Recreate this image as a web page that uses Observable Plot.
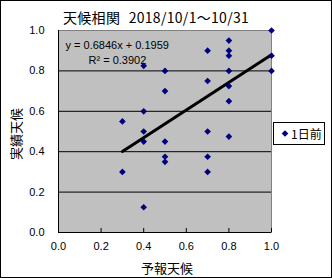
<!DOCTYPE html>
<html>
<head>
<meta charset="utf-8">
<script src="https://cdn.jsdelivr.net/npm/d3@7"></script>
<script src="https://cdn.jsdelivr.net/npm/@observablehq/plot@0.6"></script>
<style>
  html, body { margin: 0; padding: 0; background: #fff; }
  #chart { width: 332px; height: 278px; }
</style>
</head>
<body>
<div id="chart"></div>
<script>
// Data (予報天候 vs 実績天候)
const forecast = [1.0, 0.8, 0.7, 0.8, 0.8, 1.0, 0.4, 0.5, 0.8, 1.0, 0.7, 0.8, 0.5, 0.8, 0.4, 0.3, 0.4, 0.4, 0.5, 0.7, 0.8, 0.5, 0.5, 0.7, 0.3, 0.7, 0.4];
const actual   = [1.0, 0.95, 0.9, 0.9, 0.875, 0.875, 0.825, 0.8, 0.8, 0.8, 0.75, 0.725, 0.7, 0.65, 0.6, 0.55, 0.5, 0.45, 0.45, 0.5, 0.475, 0.375, 0.35, 0.375, 0.3, 0.3, 0.125];
const xTicks = [0, 0.2, 0.4, 0.6, 0.8, 1.0];
const yTicks = [0, 0.2, 0.4, 0.6, 0.8, 1.0];
const gridY = [0.2, 0.4, 0.6, 0.8];
const slope = 0.6846;
const intercept = 0.1959;
const rSquared = 0.3902;
const titleText = "天候相関 2018/10/1～10/31";
const xLabel = "予報天候";
const yLabel = "実績天候";
const seriesName = "1日前";

const points = forecast.map((x, i) => ({x, y: actual[i]}));
const xMin = d3.min(forecast), xMax = d3.max(forecast);
const trend = [xMin, xMax].map(x => ({x, y: slope * x + intercept}));
const eqLines = [`y = ${slope}x + ${intercept}`, `R² = ${rSquared}`];

const numFont = "'Liberation Sans', Arial, sans-serif";
const jpFont = "'Noto Sans CJK JP', sans-serif";

const chart = Plot.plot({
  width: 332,
  height: 278,
  marginLeft: 58,
  marginRight: 61,
  marginTop: 30,
  marginBottom: 46,
  style: {background: "#fff", fontFamily: numFont, fontSize: "11px", color: "#000"},
  x: {domain: [0, 1]},
  y: {domain: [0, 1]},
  marks: [
    Plot.frame({fill: "#c0c0c0", stroke: "#808080"}),
    Plot.ruleY(gridY, {stroke: "#000", strokeWidth: 1}),
    Plot.ruleX([0], {stroke: "#000"}),
    Plot.ruleY([0], {stroke: "#000"}),
    Plot.ruleX(xTicks.slice(1), {y1: 0, y2: 0.02, stroke: "#000"}),
    Plot.axisX({ticks: xTicks, tickFormat: d3.format(".1f"), tickSize: 0, tickPadding: 10, label: null, fontSize: 11}),
    Plot.axisY({ticks: yTicks, tickFormat: d3.format(".1f"), tickSize: 0, tickPadding: 14, label: null, fontSize: 11}),
    Plot.line(trend, {x: "x", y: "y", stroke: "#000", strokeWidth: 3}),
    Plot.dot(points, {x: "x", y: "y", symbol: "diamond2", r: 3, fill: "#000080", stroke: "none"}),
    Plot.text([eqLines[0]], {frameAnchor: "top-left", dx: 7, dy: 11, text: d => d, textAnchor: "start", fontSize: 11, fill: "#000"}),
    Plot.text([eqLines[1]], {frameAnchor: "top-left", dx: 30, dy: 26, text: d => d, textAnchor: "start", fontSize: 11, fill: "#000"})
  ]
});

const svg = d3.select(chart);
// Title
svg.append("text").attr("x", 63).attr("y", 17).attr("text-anchor", "start").attr("dominant-baseline", "central")
  .style("font-family", jpFont).style("font-size", "14px").style("word-spacing", "5px").style("letter-spacing", "0.3px")
  .attr("fill", "#000").text(titleText);
// X label
svg.append("text").attr("x", 167).attr("y", 267).attr("text-anchor", "middle").attr("dominant-baseline", "central")
  .style("font-family", jpFont).style("font-size", "13px").attr("fill", "#000").text(xLabel);
// Y label
svg.append("text").attr("transform", "translate(15,134) rotate(-90)").attr("text-anchor", "middle").attr("dominant-baseline", "central")
  .style("font-family", jpFont).style("font-size", "13px").attr("fill", "#000").text(yLabel);
// Legend
const lg = svg.append("g");
lg.append("rect").attr("x", 273.5).attr("y", 122.5).attr("width", 51).attr("height", 22).attr("fill", "#fff").attr("stroke", "#000");
lg.append("path").attr("d", d3.symbol(d3.symbolDiamond2, 28)()).attr("transform", "translate(285,133.5)").attr("fill", "#000080");
lg.append("text").attr("x", 291).attr("y", 133.5).attr("text-anchor", "start").attr("dominant-baseline", "central")
  .style("font-family", jpFont).style("font-size", "12px").attr("fill", "#000").text(seriesName);
// Outer border
svg.append("rect").attr("x", 0.5).attr("y", 0.5).attr("width", 331).attr("height", 277).attr("fill", "none").attr("stroke", "#000");

document.getElementById("chart").appendChild(chart);
</script>
</body>
</html>
